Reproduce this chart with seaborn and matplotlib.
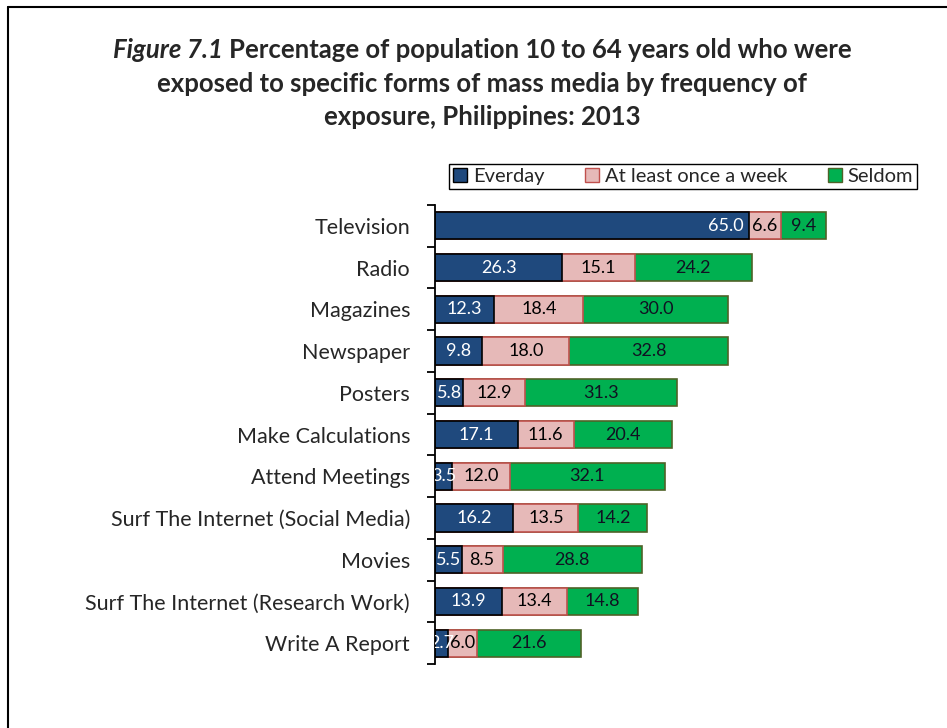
import numpy as np
import pandas as pd
import matplotlib
matplotlib.use("Agg")
import matplotlib.pyplot as plt
import seaborn as sns
from matplotlib.patches import Patch
from matplotlib.lines import Line2D

# Data
media = ["Television", "Radio", "Magazines", "Newspaper", "Posters",
         "Make Calculations", "Attend Meetings", "Surf The Internet (Social Media)",
         "Movies", "Surf The Internet (Research Work)", "Write A Report"]
everyday = [65.0, 26.3, 12.3, 9.8, 5.8, 17.1, 3.5, 16.2, 5.5, 13.9, 2.7]
weekly = [6.6, 15.1, 18.4, 18.0, 12.9, 11.6, 12.0, 13.5, 8.5, 13.4, 6.0]
seldom = [9.4, 24.2, 30.0, 32.8, 31.3, 20.4, 32.1, 14.2, 28.8, 14.8, 21.6]
series_names = ["Everday", "At least once a week", "Seldom"]

sns.set_style("white")
plt.rcParams['font.family'] = ['Lato', 'DejaVu Sans']

df = pd.DataFrame({"media": media, "everyday": everyday,
                   "weekly": weekly, "seldom": seldom})
df["cum1"] = df["everyday"]
df["cum2"] = df["everyday"] + df["weekly"]
df["cum3"] = df["cum2"] + df["seldom"]

fig = plt.figure(figsize=(9.47, 7.28), dpi=100)
ax = fig.add_axes([0.4594, 0.0879, 0.51, 0.6305])

dark, pink, green = "#1f497d", "#e6b9b8", "#00b050"

# stacked bars drawn as overlapping cumulative totals
sns.barplot(data=df, x="cum3", y="media", orient="h", color=green,
            edgecolor="#4f6228", linewidth=1.2, width=0.65, saturation=1, ax=ax)
sns.barplot(data=df, x="cum2", y="media", orient="h", color=pink,
            edgecolor="#c0504d", linewidth=1.2, width=0.65, saturation=1, ax=ax)
sns.barplot(data=df, x="cum1", y="media", orient="h", color=dark,
            edgecolor="black", linewidth=1.2, width=0.65, saturation=1, ax=ax)

ax.set_xlim(0, 100)
ax.set_ylim(len(media) - 0.5, -0.5)

# data labels (clipped to the plot area like the original)
lab_size = 13
for i, row in df.iterrows():
    if i == 0:
        t = ax.text(row["cum1"] - 1.2, i, f"{row['everyday']:.1f}", ha="right",
                    va="center", color="white", fontsize=lab_size)
    else:
        t = ax.text(row["cum1"] / 2, i, f"{row['everyday']:.1f}", ha="center",
                    va="center", color="white", fontsize=lab_size)
    t.set_clip_box(ax.bbox)
    t.set_clip_on(True)
    ax.text((row["cum1"] + row["cum2"]) / 2, i, f"{row['weekly']:.1f}",
            ha="center", va="center", color="black", fontsize=lab_size)
    ax.text((row["cum2"] + row["cum3"]) / 2, i, f"{row['seldom']:.1f}",
            ha="center", va="center", color="#111122", fontsize=lab_size)

# axes styling
for s in ["top", "right", "bottom"]:
    ax.spines[s].set_visible(False)
ax.spines["left"].set_color("black")
ax.spines["left"].set_linewidth(1.3)
ax.set_xlabel("")
ax.set_ylabel("")
ax.set_xticks([])
ax.set_yticks(np.arange(-0.5, len(media), 1.0), minor=True)
ax.tick_params(axis="y", which="major", length=0, pad=18, labelsize=15.5)
ax.tick_params(axis="y", which="minor", length=6, width=1.3, color="black", left=True)

# legend
handles = [Patch(facecolor=dark, edgecolor="black"),
           Patch(facecolor=pink, edgecolor="#c0504d"),
           Patch(facecolor=green, edgecolor="#4f6228")]
leg = fig.legend(handles, series_names, loc="center",
                 bbox_to_anchor=(683 / 947, 1 - 176.5 / 728), ncol=3,
                 fontsize=14.5, frameon=True, fancybox=False,
                 handlelength=0.7, handleheight=0.7, handletextpad=0.3,
                 columnspacing=2.0, borderpad=0.2, edgecolor="black")
leg.get_frame().set_linewidth(1.0)
leg.get_frame().set_alpha(1)

# title with italic figure number
renderer = fig.canvas.get_renderer()
cx = 482 / 947
tsize = 18.5
t1 = fig.text(0, 1 - 50 / 728, "Figure 7.1", fontsize=tsize, fontweight="bold",
              fontstyle="italic", va="center", ha="left")
t2 = fig.text(0, 1 - 50 / 728, "Percentage of population 10 to 64 years old who were",
              fontsize=tsize, fontweight="bold", va="center", ha="left")
w1 = t1.get_window_extent(renderer).width / fig.bbox.width
w2 = t2.get_window_extent(renderer).width / fig.bbox.width
gap = 6 / 947
x0 = cx - (w1 + gap + w2) / 2
t1.set_x(x0)
t2.set_x(x0 + w1 + gap)
fig.text(cx, 1 - 84 / 728, "exposed to specific forms of mass media by frequency of",
         fontsize=tsize, fontweight="bold", va="center", ha="center")
fig.text(cx, 1 - 117 / 728, "exposure, Philippines: 2013",
         fontsize=tsize, fontweight="bold", va="center", ha="center")

# chart border (top and left edges visible)
fig.add_artist(Line2D([8 / 947, 1], [1 - 7 / 728, 1 - 7 / 728],
                      transform=fig.transFigure, color="black", linewidth=1.5))
fig.add_artist(Line2D([8 / 947, 8 / 947], [0, 1 - 7 / 728],
                      transform=fig.transFigure, color="black", linewidth=1.5))

fig.savefig("out.png", dpi=100)
